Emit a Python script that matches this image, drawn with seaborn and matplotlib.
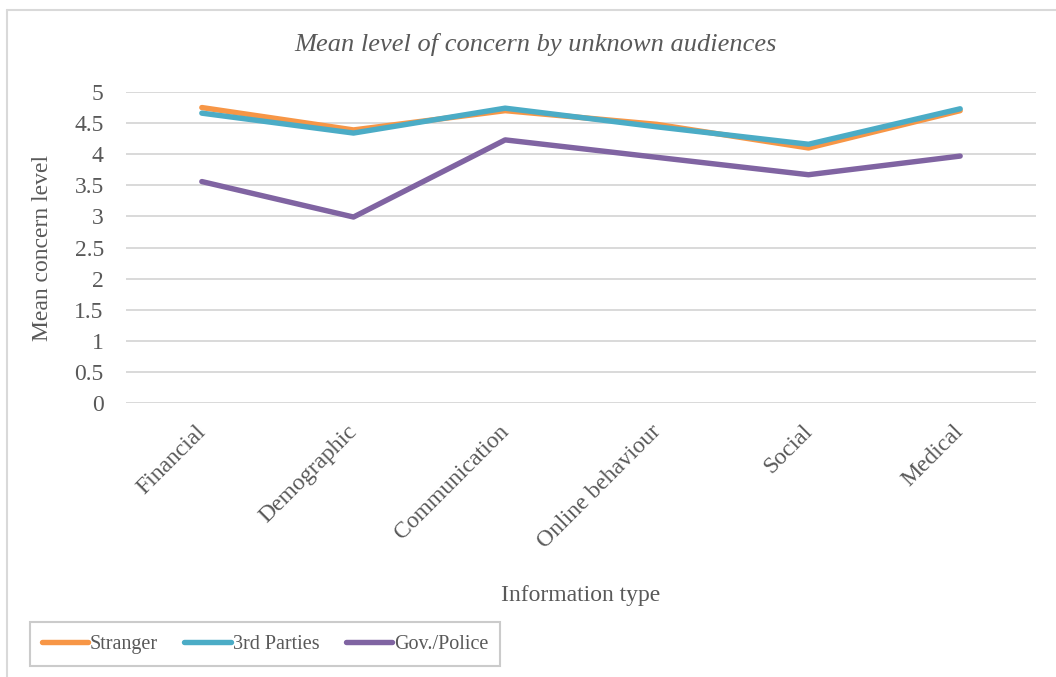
import matplotlib
matplotlib.use("Agg")
import matplotlib.pyplot as plt
from matplotlib.lines import Line2D
import matplotlib.transforms as mtransforms
import seaborn as sns
import pandas as pd

categories = ["Financial", "Demographic", "Communication",
              "Online behaviour", "Social", "Medical"]
stranger = [4.75, 4.39, 4.70, 4.48, 4.10, 4.70]
third_parties = [4.66, 4.34, 4.74, 4.44, 4.16, 4.73]
gov_police = [3.56, 2.99, 4.23, 3.95, 3.67, 3.97]
series_names = ["Stranger", "3rd Parties", "Gov./Police"]
y_ticks = [0, 0.5, 1, 1.5, 2, 2.5, 3, 3.5, 4, 4.5, 5]
y_tick_labels = ["0", "0.5", "1", "1.5", "2", "2.5", "3", "3.5", "4", "4.5", "5"]

rows = []
for name, vals in zip(series_names, [stranger, third_parties, gov_police]):
    for cat, v in zip(categories, vals):
        rows.append({"Information type": cat, "Mean concern level": v, "Audience": name})
df = pd.DataFrame(rows)

sns.set_theme(style="white")
plt.rcParams["font.family"] = ["Liberation Serif", "DejaVu Serif"]
text_color = "#595959"
grid_color = "#D9D9D9"
palette = {"Stranger": "#F79646", "3rd Parties": "#4BACC6", "Gov./Police": "#8064A2"}
fs = 17

fig = plt.figure(figsize=(10.56, 6.77), dpi=100)
ax = fig.add_axes([126 / 1056, 1 - 403 / 677, 910 / 1056, 311 / 677])

sns.lineplot(data=df, x="Information type", y="Mean concern level", hue="Audience",
             hue_order=series_names, palette=palette, linewidth=3.9,
             sort=False, ax=ax, legend=False, solid_capstyle="round")

ax.set_xlim(-0.5, len(categories) - 0.5)
ax.set_ylim(0, 5)
ax.set_yticks(y_ticks)
ax.set_yticklabels(y_tick_labels)
ax.set_xticks(range(len(categories)))
ax.set_xticklabels(categories, rotation=45, ha="right", va="top")
for sp in ax.spines.values():
    sp.set_visible(False)
ax.grid(axis="y", color=grid_color, linewidth=1.4)
ax.grid(axis="x", visible=False)
ax.set_axisbelow(True)
ax.tick_params(axis="y", length=0, pad=16, labelsize=fs, labelcolor=text_color)
ax.tick_params(axis="x", length=0, pad=13, labelsize=fs, labelcolor=text_color)

# nudge the slanted category labels slightly to the right
shift = mtransforms.ScaledTranslation(8 / 100, 0, fig.dpi_scale_trans)
for lbl in ax.get_xticklabels():
    lbl.set_transform(lbl.get_transform() + shift)

ax.set_xlabel("Information type", fontsize=fs, color=text_color)
ax.xaxis.set_label_coords(0.5, (403 - 596) / 311)
ax.xaxis.label.set_va("center")
ax.set_ylabel("Mean concern level", fontsize=fs, color=text_color)
ax.yaxis.set_label_coords((43 - 126) / 910, 0.5)
ax.yaxis.label.set_va("center")

fig.text(535 / 1056, 1 - 45 / 677, "Mean level of concern by unknown audiences",
         fontsize=19, style="italic", color=text_color, ha="center", va="center")

handles = [Line2D([0], [0], color=palette[n], linewidth=3.9, solid_capstyle="round")
           for n in series_names]
leg = fig.legend(handles, series_names, loc="center",
                 bbox_to_anchor=(265 / 1056, 1 - 644 / 677), ncol=3,
                 frameon=True, fancybox=False, fontsize=14.5, handlelength=2.3,
                 handletextpad=0.1, columnspacing=1.3, borderpad=0.6)
leg.get_frame().set_edgecolor("#BFBFBF")
leg.get_frame().set_linewidth(1.5)
for t in leg.get_texts():
    t.set_color(text_color)

# chart area border (top and left edges)
fig.add_artist(Line2D([7 / 1056, 1.0], [1 - 9.5 / 677, 1 - 9.5 / 677],
                      transform=fig.transFigure, color=grid_color, linewidth=1.5))
fig.add_artist(Line2D([7 / 1056, 7 / 1056], [1 - 9.5 / 677, 0.0],
                      transform=fig.transFigure, color=grid_color, linewidth=1.5))

fig.savefig("out.png", dpi=100, facecolor="white")
